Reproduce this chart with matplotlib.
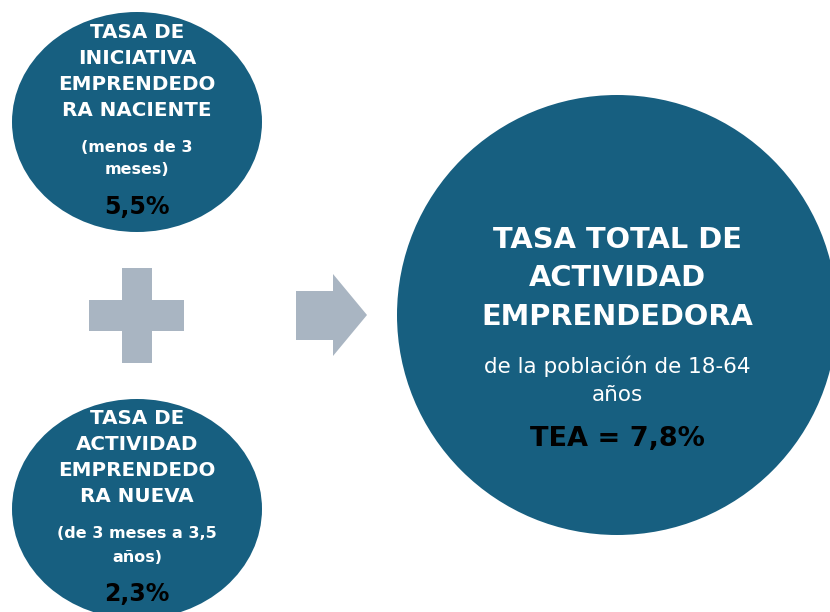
import matplotlib
matplotlib.use("Agg")
import matplotlib.pyplot as plt
from matplotlib.patches import Ellipse, Circle, Polygon, Rectangle

# ---- data ----
small_titles = [["TASA DE", "INICIATIVA", "EMPRENDEDO", "RA NACIENTE"],
                ["TASA DE", "ACTIVIDAD", "EMPRENDEDO", "RA NUEVA"]]
small_subtitles = [["(menos de 3", "meses)"],
                   ["(de 3 meses a 3,5", "años)"]]
small_rates = [5.5, 2.3]
total_title = ["TASA TOTAL DE", "ACTIVIDAD", "EMPRENDEDORA"]
total_subtitle = ["de la población de 18-64", "años"]
total_label = "TEA"
total_rate = 7.8

DARK = "#175F80"
GREY = "#A9B5C2"
FONT = ["DejaVu Sans"]


def fmt(v):
    return f"{v:.1f}".replace(".", ",") + "%"


fig = plt.figure(figsize=(8.3, 6.12), dpi=100)
ax = fig.add_axes([0, 0, 1, 1])
ax.set_xlim(0, 830)
ax.set_ylim(612, 0)
ax.axis("off")

# small ellipses
centers = [(137, 122), (137, 509)]
for (cx, cy), title, sub, rate in zip(centers, small_titles, small_subtitles, small_rates):
    ax.add_patch(Ellipse((cx, cy), 250, 220, color=DARK, lw=0))
    y0 = cy - 90
    for i, line in enumerate(title):
        ax.text(cx, y0 + i * 26, line, ha="center", va="center", color="white",
                fontsize=14.3, fontweight="bold", family=FONT)
    y1 = cy + 25
    for i, line in enumerate(sub):
        ax.text(cx, y1 + i * 23, line, ha="center", va="center", color="white",
                fontsize=11.5, fontweight="bold", family=FONT)
    ax.text(cx, cy + 85, fmt(rate), ha="center", va="center", color="black",
            fontsize=17, fontweight="bold", family=FONT)

# plus sign
ax.add_patch(Rectangle((122, 268), 30, 95, color=GREY, lw=0))
ax.add_patch(Rectangle((89, 300), 95, 31, color=GREY, lw=0))

# arrow
ax.add_patch(Polygon([(296, 291), (333, 291), (333, 274), (367, 315),
                      (333, 356), (333, 340), (296, 340)], closed=True,
                     color=GREY, lw=0))

# big circle
bcx, bcy = 617, 315
ax.add_patch(Circle((bcx, bcy), 220, color=DARK, lw=0))
for i, line in enumerate(total_title):
    ax.text(bcx, 240 + i * 38.5, line, ha="center", va="center", color="white",
            fontsize=20.8, fontweight="bold", family=FONT)
for i, line in enumerate(total_subtitle):
    ax.text(bcx, 366 + i * 29, line, ha="center", va="center", color="white",
            fontsize=15.5, family=FONT)
ax.text(bcx, 439, f"{total_label} = {fmt(total_rate)}", ha="center", va="center",
        color="black", fontsize=19.5, fontweight="bold", family=FONT)

fig.savefig("out.png", dpi=100)
